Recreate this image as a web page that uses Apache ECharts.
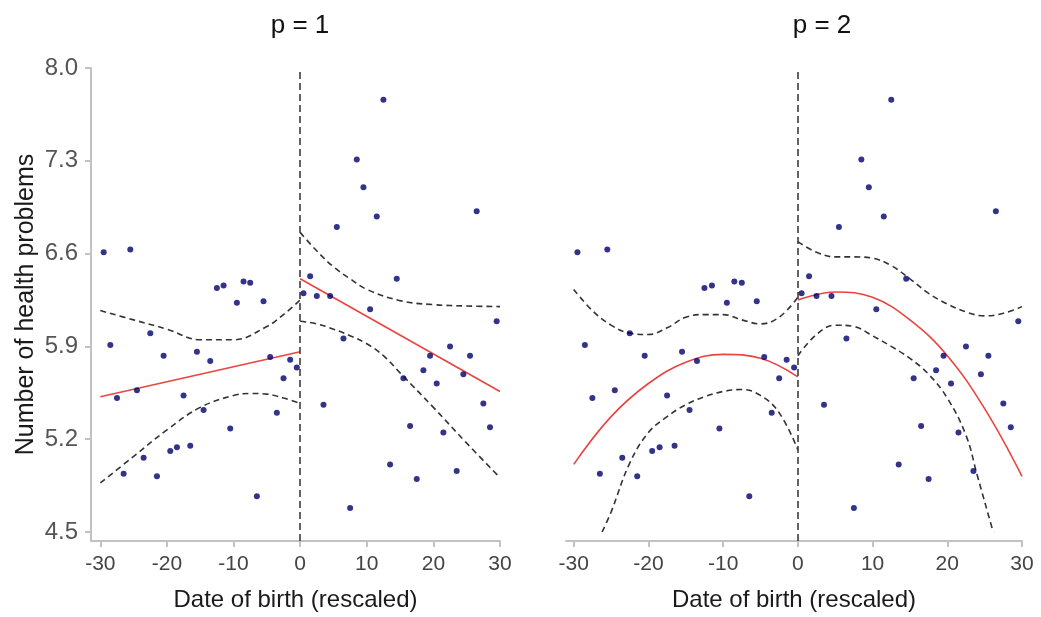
<!DOCTYPE html>
<html>
<head>
<meta charset="utf-8">
<title>Polynomial fits, p = 1 and p = 2</title>
<script src="https://cdn.jsdelivr.net/npm/echarts@6/dist/echarts.min.js"></script>
<style>
    html, body { margin: 0; padding: 0; background: #fff; }
    #main { width: 1041px; height: 617px; }
</style>
</head>
<body>
<div id="main"></div>
<script>

// observations, one per half unit of date of birth
var birthBefore = [-29.5, -28.5, -27.5, -26.5, -25.5, -24.5, -23.5, -22.5, -21.5, -20.5,
    -19.5, -18.5, -17.5, -16.5, -15.5, -14.5, -13.5, -12.5, -11.5, -10.5,
    -9.5, -8.5, -7.5, -6.5, -5.5, -4.5, -3.5, -2.5, -1.5, -0.5];
var healthBefore = [6.61, 5.91, 5.51, 4.94, 6.63, 5.57, 5.06, 6.00, 4.92, 5.83,
    5.11, 5.14, 5.53, 5.15, 5.86, 5.42, 5.79, 6.34, 6.36, 5.28,
    6.23, 6.39, 6.38, 4.77, 6.24, 5.82, 5.40, 5.66, 5.80, 5.74];
var birthAfter = [0.5, 1.5, 2.5, 3.5, 4.5, 5.5, 6.5, 7.5, 8.5, 9.5,
    10.5, 11.5, 12.5, 13.5, 14.5, 15.5, 16.5, 17.5, 18.5, 19.5,
    20.5, 21.5, 22.5, 23.5, 24.5, 25.5, 26.5, 27.5, 28.5, 29.5];
var healthAfter = [6.30, 6.43, 6.28, 5.46, 6.28, 6.80, 5.96, 4.68, 7.31, 7.10,
    6.18, 6.88, 7.76, 5.01, 6.41, 5.66, 5.30, 4.90, 5.72, 5.83,
    5.62, 5.25, 5.90, 4.96, 5.69, 5.83, 6.92, 5.47, 5.29, 6.09];

// p = 1 : fitted line and confidence band
var p1FitBefore = [[-30, 5.52], [0, 5.86]];
var p1FitAfter = [[0, 6.41], [30, 5.56]];
var p1UpperBefore = [[-30, 6.17], [-25, 6.10], [-20, 6.03], [-15, 5.95], [-10, 5.95], [-5, 6.05], [-2.5, 6.14], [0, 6.25]];
var p1LowerBefore = [[-30, 4.87], [-25, 5.07], [-20, 5.27], [-15, 5.44], [-10, 5.53], [-7.5, 5.545], [-5, 5.54], [-2.5, 5.51], [0, 5.47]];
var p1UpperAfter = [[0, 6.76], [2.5, 6.62], [5, 6.50], [7.5, 6.41], [10, 6.33], [15, 6.245], [20, 6.215], [25, 6.205], [30, 6.20]];
var p1LowerAfter = [[0, 6.09], [2.5, 6.07], [5, 6.03], [7.5, 5.98], [10, 5.92], [12.5, 5.83], [15, 5.70], [20, 5.44], [25, 5.17], [30, 4.91]];

// p = 2 : fitted curve and confidence band
var p2FitBefore = [[-30, 5.01], [-25, 5.37], [-20, 5.62], [-15, 5.78], [-10, 5.84], [-5, 5.81], [0, 5.67]];
var p2FitAfter = [[0, 6.25], [5, 6.31], [10, 6.27], [15, 6.10], [20, 5.83], [25, 5.43], [30, 4.92]];
var p2UpperBefore = [[-30, 6.33], [-27.5, 6.17], [-25, 6.06], [-22.5, 6.00], [-20, 5.99], [-17.5, 6.04], [-15, 6.12],
    [-12.5, 6.14], [-10, 6.14], [-7.5, 6.10], [-5, 6.07], [-2.5, 6.12], [0, 6.27]];
var p2LowerBefore = [[-26.2, 4.5], [-25, 4.65], [-22.5, 5.02], [-20, 5.25], [-17.5, 5.37], [-15, 5.46],
    [-12.5, 5.52], [-10, 5.56], [-7.5, 5.575], [-5, 5.53], [-2.5, 5.40], [0, 5.12]];
var p2UpperAfter = [[0, 6.69], [2.5, 6.61], [5, 6.575], [7.5, 6.575], [10, 6.565], [12.5, 6.51], [15, 6.41],
    [17.5, 6.30], [20, 6.22], [22.5, 6.16], [25, 6.13], [27.5, 6.15], [30, 6.20]];
var p2LowerAfter = [[0, 5.83], [2.5, 5.99], [5, 6.06], [7.5, 6.05], [10, 5.98], [12.5, 5.90], [15, 5.81],
    [17.5, 5.69], [20, 5.51], [22.5, 5.23], [24, 4.93], [26, 4.53], [26.2, 4.5]];

var xTicks = [-30, -20, -10, 0, 10, 20, 30];
var yTicks = [4.5, 5.2, 5.9, 6.6, 7.3, 8.0];
var panelTitles = ['p = 1', 'p = 2'];

var FONT = 'Liberation Sans, Arial, sans-serif';
var AXIS_GREY = '#c2c2c2';

/**
 * zip two value arrays into [x, y] pairs
 *
 * @param  {number[]} xs x values
 * @param  {number[]} ys y values
 * @return {Array} pairs
 */
function zip(xs, ys) {
    var out = [];
    for (var i = 0; i < xs.length; ++i) {
        out.push([xs[i], ys[i]]);
    }
    return out;
}

/**
 * a line series in a panel
 *
 * @param  {number}  idx    panel index
 * @param  {Array}   data   [x, y] pairs
 * @param  {boolean} dashed confidence band or fit
 * @return {Object} series option
 */
function lineSeries(idx, data, dashed) {
    return {
        type: 'line',
        xAxisIndex: idx,
        yAxisIndex: idx,
        data: data,
        smooth: 0.4,
        showSymbol: false,
        silent: true,
        z: dashed ? 3 : 4,
        lineStyle: dashed
            ? {color: '#333', width: 1.6, type: [6, 4]}
            : {color: '#ea4440', width: 1.6}
    };
}

var points = zip(birthBefore, healthBefore).concat(zip(birthAfter, healthAfter));
var grids = [
    {left: 91, right: 541, top: 68, bottom: 76},
    {left: 566, right: 19, top: 68, bottom: 76}
];
var xMins = [-31.4, -31.03];
var bands = [
    [p1FitBefore, p1FitAfter, p1UpperBefore, p1LowerBefore, p1UpperAfter, p1LowerAfter],
    [p2FitBefore, p2FitAfter, p2UpperBefore, p2LowerBefore, p2UpperAfter, p2LowerAfter]
];

var xAxes = [];
var yAxes = [];
var series = [];
var titles = [];

for (var p = 0; p < 2; ++p) {
    xAxes.push({
        gridIndex: p,
        type: 'value',
        min: xMins[p],
        max: 30,
        name: 'Date of birth (rescaled)',
        nameLocation: 'middle',
        nameGap: 47,
        nameTextStyle: {fontSize: 24, color: '#1a1a1a', fontFamily: FONT},
        axisLine: {onZero: false, lineStyle: {color: AXIS_GREY, width: 2}},
        axisTick: {customValues: xTicks, length: 6, lineStyle: {color: AXIS_GREY, width: 2}},
        axisLabel: {customValues: xTicks, fontSize: 21, color: '#444', margin: 13, fontFamily: FONT},
        splitLine: {show: false}
    });
    yAxes.push({
        gridIndex: p,
        type: 'value',
        min: 4.432,
        max: 8.0,
        show: p === 0,
        name: 'Number of health problems',
        nameLocation: 'middle',
        nameGap: 52,
        nameTextStyle: {fontSize: 25, color: '#1a1a1a', fontFamily: FONT},
        axisLine: {show: true, onZero: false, lineStyle: {color: AXIS_GREY, width: 2}},
        axisTick: {show: true, customValues: yTicks, length: 6, lineStyle: {color: AXIS_GREY, width: 2}},
        axisLabel: {
            customValues: yTicks, fontSize: 24, color: '#555', margin: 13, fontFamily: FONT,
            formatter: function (v) {
                return v.toFixed(1);
            }
        },
        splitLine: {show: false}
    });

    series.push({
        type: 'scatter',
        xAxisIndex: p,
        yAxisIndex: p,
        data: points,
        symbolSize: 6,
        silent: true,
        z: 5,
        itemStyle: {color: '#00006b'},
        markLine: {
            silent: true,
            symbol: 'none',
            label: {show: false},
            lineStyle: {color: '#3d3d3d', width: 1.6, type: [7, 4]},
            data: [{xAxis: 0}]
        }
    });
    for (var b = 0; b < bands[p].length; ++b) {
        series.push(lineSeries(p, bands[p][b], b >= 2));
    }

    titles.push({
        text: panelTitles[p],
        left: p === 0 ? 295 : 817,
        top: 8,
        textAlign: 'center',
        textStyle: {fontSize: 26, fontWeight: 'normal', color: '#111', fontFamily: FONT}
    });
}

var chart = echarts.init(document.getElementById('main'));
chart.setOption({
    animation: false,
    backgroundColor: '#fff',
    title: titles,
    grid: grids,
    xAxis: xAxes,
    yAxis: yAxes,
    series: series
});
</script>
</body>
</html>
